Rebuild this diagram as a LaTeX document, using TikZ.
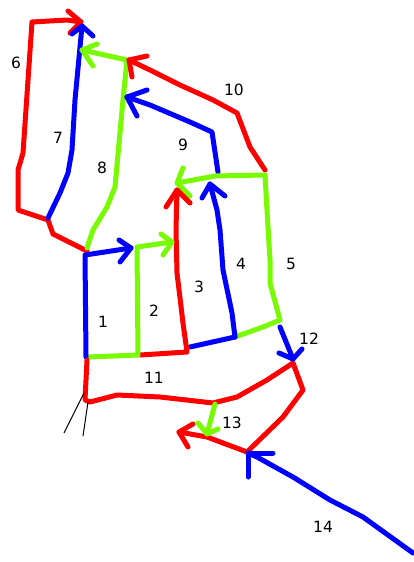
\documentclass[tikz,border=0pt]{standalone}
\usepackage{fontspec}
\setmainfont{DejaVu Sans}
\definecolor{pred}{RGB}{255,0,0}
\definecolor{pblue}{RGB}{0,0,255}
\definecolor{pgreen}{RGB}{120,250,0}
\tikzset{
  stroke/.style={line width=5pt, line cap=round, line join=round},
  rd/.style={stroke, draw=pred},
  bl/.style={stroke, draw=pblue},
  gr/.style={stroke, draw=pgreen},
  thin/.style={draw=black, line width=1pt},
  num/.style={font=\fontsize{15.5}{15.5}\selectfont, inner sep=0pt}
}
\begin{document}
\begin{tikzpicture}[x=1pt,y=-1pt]
\useasboundingbox[fill=white] (0,0) rectangle (414,562);

% 6: red outer loop on the left
\draw[rd] (87,251) -- (53,234) -- (48,220) -- (18,210) -- (18,170) -- (23,153) -- (32,22) -- (67,20) -- (81,22);
\draw[rd] (68,11) -- (81,22) -- (70,33);
% 7: blue
\draw[bl] (48,218) -- (60,193) -- (68,173) -- (72,150) -- (75,100) -- (82,26);
\draw[bl] (72,34) -- (82,26) -- (93,36);
% 8: green
\draw[gr] (87,248) -- (93,230) -- (107,207) -- (115,187) -- (123,100) -- (127,60) -- (82,50);
\draw[gr] (97,44) -- (82,50) -- (93,66);
% 10: red
\draw[rd] (265,170) -- (250,147) -- (237,113) -- (213,100) -- (180,85) -- (150,70) -- (129,60);
\draw[rd] (147,56) -- (129,60) -- (132,77);
% 9: blue
\draw[bl] (218,172) -- (212,132) -- (190,122) -- (150,105) -- (127,97);
\draw[bl] (147,90) -- (127,97) -- (137,116);
% top of 4/5: green arrow
\draw[gr] (265,175) -- (215,176) -- (177,183);
\draw[gr] (183,168) -- (177,183) -- (190,196);
% 5: green right side
\draw[gr] (265,175) -- (267,210) -- (270,260) -- (270,283) -- (280,320) -- (263,327) -- (235,337);
% 4: blue
\draw[bl] (235,337) -- (232,313) -- (223,270) -- (220,230) -- (217,210) -- (210,184);
\draw[bl] (202,198) -- (210,184) -- (225,196);
% 3: blue bottom and red side
\draw[bl] (235,337) -- (190,347);
\draw[rd] (140,355) -- (187,352) -- (183,323) -- (177,273) -- (176,230) -- (177,190);
\draw[rd] (166,207) -- (177,190) -- (190,203);
% 2: green
\draw[gr] (88,357) -- (138,355) -- (137,247) -- (172,242);
\draw[gr] (161,234) -- (172,242) -- (163,255);
% 1: blue
\draw[bl] (86,357) -- (85,255) -- (131,248);
\draw[bl] (119,240) -- (131,248) -- (120,262);
% 11: red loop
\draw[rd] (87,360) -- (85,400) -- (90,402) -- (117,395) -- (160,397) -- (213,403) -- (237,397) -- (267,380) -- (293,363) -- (303,390) -- (283,417) -- (247,452) -- (207,437) -- (179,432);
\draw[rd] (193,424) -- (179,432) -- (188,447);
% 12: blue
\draw[bl] (280,327) -- (293,359);
\draw[bl] (279,353) -- (293,359) -- (302,349);
% 13: green
\draw[gr] (215,404) -- (207,434);
\draw[gr] (198,423) -- (207,434) -- (218,429);
% 14: blue
\draw[bl] (413,553) -- (363,517) -- (330,500) -- (293,477) -- (257,457) -- (248,453);
\draw[bl] (273,453) -- (248,453) -- (248,477);
% thin black strokes
\draw[thin] (84,393) -- (64,433);
\draw[thin] (88,402) -- (83,436);

% labels
\node[num] (l6)  at (16,63)  {6};
\node[num] (l7)  at (58,138) {7};
\node[num] (l8)  at (102,168) {8};
\node[num] (l9)  at (183,145) {9};
\node[num] (l10) at (234,90)  {10};
\node[num] (l1)  at (103,322) {1};
\node[num] (l2)  at (154,311) {2};
\node[num] (l3)  at (199,287) {3};
\node[num] (l4)  at (241,264) {4};
\node[num] (l5)  at (291,264) {5};
\node[num] (l11) at (154,378) {11};
\node[num] (l12) at (309,339) {12};
\node[num] (l13) at (232,423) {13};
\node[num] (l14) at (323,527) {14};
\end{tikzpicture}
\end{document}
